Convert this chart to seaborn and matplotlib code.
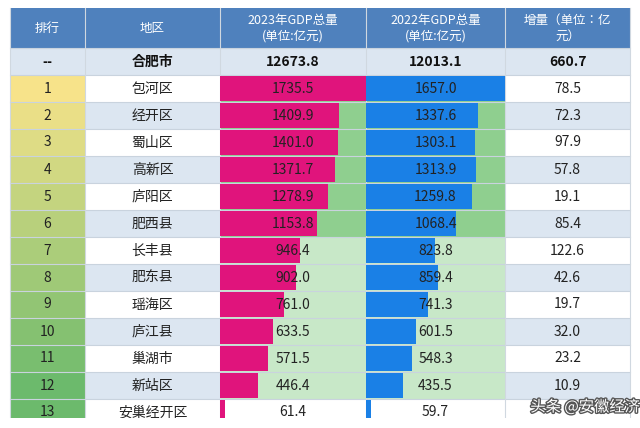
import matplotlib
matplotlib.use("Agg")
import matplotlib.pyplot as plt
import matplotlib.colors as mcolors
import matplotlib.patheffects as pe
from matplotlib import font_manager
import seaborn as sns
import pandas as pd
import numpy as np
from matplotlib.patches import Rectangle

avail = {f.name for f in font_manager.fontManager.ttflist}
cjk = [f for f in ["Noto Sans CJK SC", "Noto Sans CJK JP", "Noto Sans CJK TC", "Noto Sans CJK KR"] if f in avail]
plt.rcParams["font.family"] = cjk + ["DejaVu Sans"]

headers = ["排行", "地区", "2023年GDP总量\n(单位:亿元)", "2022年GDP总量\n(单位:亿元)", "增量（单位：亿\n元）"]
total_row = ["--", "合肥市", "12673.8", "12013.1", "660.7"]
ranks = [str(i) for i in range(1, 14)]
regions = ["包河区", "经开区", "蜀山区", "高新区", "庐阳区", "肥西县", "长丰县", "肥东县",
           "瑶海区", "庐江县", "巢湖市", "新站区", "安巢经开区"]
gdp2023 = [1735.5, 1409.9, 1401.0, 1371.7, 1278.9, 1153.8, 946.4, 902.0, 761.0, 633.5, 571.5, 446.4, 61.4]
gdp2022 = [1657.0, 1337.6, 1303.1, 1313.9, 1259.8, 1068.4, 823.8, 859.4, 741.3, 601.5, 548.3, 435.5, 59.7]
increase = [78.5, 72.3, 97.9, 57.8, 19.1, 85.4, 122.6, 42.6, 19.7, 32.0, 23.2, 10.9, None]

W, H = 640, 428
fig = plt.figure(figsize=(6.4, 4.28), dpi=100)
ax = fig.add_axes([0, 0, 1, 1])
ax.set_xlim(0, W); ax.set_ylim(H, 0); ax.axis("off")

cols = [10, 85, 220, 366, 505, 630]
top, hdr_h, tot_h, row_h, bottom = 8, 40, 27, 27, 418
y0 = top + hdr_h + tot_h

header_c = "#4f81bd"
light_blue = "#dce6f1"
grid = "#c9d3de"

def cell(x0, x1, y, h, fc):
    ax.add_patch(Rectangle((x0, y), x1 - x0, h, fc=fc, ec="none", zorder=0))

for i, t in enumerate(headers):
    cell(cols[i], cols[i+1], top, hdr_h, header_c)
    ax.text((cols[i]+cols[i+1])/2, top+hdr_h/2, t, color="white", ha="center", va="center",
            fontsize=9, linespacing=1.3)
for i, t in enumerate(total_row):
    cell(cols[i], cols[i+1], top+hdr_h, tot_h, light_blue)
    ax.text((cols[i]+cols[i+1])/2, top+hdr_h+tot_h/2, t, ha="center", va="center",
            fontsize=10, fontweight="bold", color="#111111")

yellow = np.array(mcolors.to_rgb("#f7e38a")); green = np.array(mcolors.to_rgb("#6cba6c"))
def bg_for(v):
    if v < 100:
        return "#ffffff"
    if v >= 1000:
        return "#8fcf8f"
    return "#c8e8c8"

n = len(ranks)
for r in range(n):
    y = y0 + r*row_h
    t = r/(n-2) if r < n-1 else 1.0
    rc = tuple(yellow*(1-t) + green*t)
    alt = light_blue if r % 2 == 1 else "#ffffff"
    cell(cols[0], cols[1], y, row_h, rc)
    cell(cols[1], cols[2], y, row_h, alt)
    cell(cols[2], cols[3], y, row_h, bg_for(gdp2023[r]))
    cell(cols[3], cols[4], y, row_h, bg_for(gdp2022[r]))
    cell(cols[4], cols[5], y, row_h, alt)
    cy = y + row_h/2
    ax.text((cols[0]+cols[1])/2, cy, ranks[r], ha="center", va="center", fontsize=10, color="#222")
    ax.text((cols[1]+cols[2])/2, cy, regions[r], ha="center", va="center", fontsize=10, color="#222")
    if increase[r] is not None:
        ax.text((cols[4]+cols[5])/2, cy, f"{increase[r]:.1f}", ha="center", va="center", fontsize=10, color="#222")

for r in range(n+1):
    ax.plot([cols[0], cols[5]], [y0 + r*row_h]*2, color=grid, lw=0.8, zorder=3)
ax.plot([cols[0], cols[5]], [top+hdr_h]*2, color=grid, lw=0.8, zorder=3)
for c in cols:
    ax.plot([c, c], [top, bottom], color="#d0d8e0", lw=0.8, zorder=3)

df = pd.DataFrame({"region": regions, "g23": gdp2023, "g22": gdp2022})
vis_rows = (bottom - y0) / row_h
for key, x0, x1, color in [("g23", cols[2], cols[3], "#e0147c"), ("g22", cols[3], cols[4], "#1a80e6")]:
    bax = fig.add_axes([x0/W, 1 - bottom/H, (x1-x0)/W, (bottom-y0)/H])
    bax.patch.set_alpha(0)
    sns.barplot(data=df, y="region", x=key, orient="h", color=color, width=0.94,
                saturation=1, ax=bax, order=regions)
    bax.set_xlim(0, max(df[key]))
    bax.set_ylim(vis_rows - 0.5, -0.5)
    bax.axis("off")
    for r, v in enumerate(df[key]):
        bax.text(max(df[key])*0.5, r, f"{v:.1f}", ha="center", va="center", fontsize=10, color="#222")

ax.add_patch(Rectangle((0, bottom), W, H-bottom, fc="white", ec="none", zorder=5))
ax.text(585, 407, "头条 @安徽经济", ha="center", va="center", fontsize=11, color="white",
        zorder=6, path_effects=[pe.withStroke(linewidth=2, foreground="#555")])

fig.savefig("out.png", dpi=100)
